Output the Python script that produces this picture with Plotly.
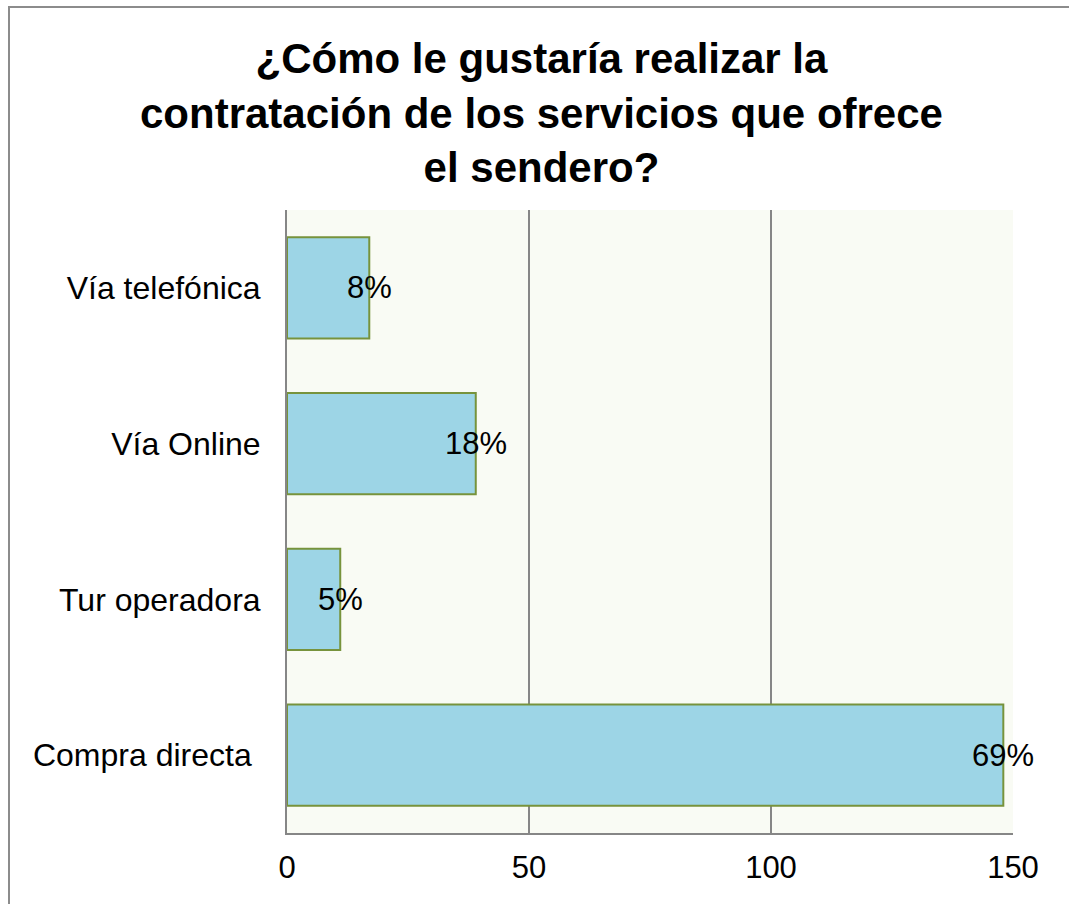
import plotly.graph_objects as go

# Survey answers: preferred way to book the trail's services
categories = ["Compra directa", "Tur operadora", "Vía Online", "Vía telefónica"]
category_labels = ["Compra directa\u00a0", "Tur operadora", "Vía Online", "Vía telefónica"]
counts = [148, 11, 39, 17]
x_ticks = [0, 50, 100, 150]

total = sum(counts)
pct_labels = [f"{round(c / total * 100)}%" for c in counts]

FONT = "Liberation Sans, Arial, sans-serif"
W, H = 1069, 904
L, R, T, B = 287, 56, 210, 71
pw, ph = W - L - R, H - T - B


def px_to_paper(px, py):
    return (px - L) / pw, (H - B - py) / ph


fig = go.Figure()
fig.add_trace(go.Bar(
    x=counts,
    y=categories,
    orientation="h",
    marker=dict(color="#9dd5e6", line=dict(color="#77933c", width=2)),
    hoverinfo="x+y",
))

for c, cat, lab in zip(counts, categories, pct_labels):
    fig.add_annotation(
        x=c, y=cat, text=lab, showarrow=False, xanchor="center", yanchor="middle",
        font=dict(family=FONT, size=31, color="#000000"),
    )

# chart title
tx, ty = px_to_paper(541, 113)
fig.add_annotation(
    x=tx, y=ty, xref="paper", yref="paper", xanchor="center", yanchor="middle",
    showarrow=False, align="center",
    text="<b>¿Cómo le gustaría realizar la<br>contratación de los servicios que ofrece<br>el sendero?</b>",
    font=dict(family=FONT, size=42, color="#000000"),
)

# outer chart frame
x0, y1 = px_to_paper(9, 7)
x1, y0 = px_to_paper(W + 10, H + 10)
fig.add_shape(
    type="rect", xref="paper", yref="paper", x0=x0, x1=x1, y0=y0, y1=y1,
    line=dict(color="#8c8c8c", width=2), fillcolor="rgba(0,0,0,0)", layer="below",
)

fig.update_layout(
    width=W, height=H,
    margin=dict(l=L, r=R, t=T, b=B, autoexpand=False),
    paper_bgcolor="#ffffff",
    plot_bgcolor="#f9fbf4",
    bargap=0.35,
    showlegend=False,
    font=dict(family=FONT, size=31, color="#000000"),
    xaxis=dict(
        range=[0, 150], tickvals=x_ticks, ticktext=[str(v) for v in x_ticks],
        showgrid=True, gridcolor="#868686", gridwidth=2,
        zeroline=False, showline=True, linecolor="#868686", linewidth=2,
        ticks="outside", ticklen=6, tickcolor="rgba(0,0,0,0)",
        tickfont=dict(size=31), fixedrange=True,
    ),
    yaxis=dict(
        range=[-0.5, 3.5], categoryorder="array", categoryarray=categories,
        tickvals=categories, ticktext=category_labels,
        showgrid=False, zeroline=False, showline=True, linecolor="#868686", linewidth=2,
        ticks="outside", ticklen=18, tickcolor="rgba(0,0,0,0)",
        tickfont=dict(size=32), fixedrange=True,
    ),
)

fig.write_html("out.html")
